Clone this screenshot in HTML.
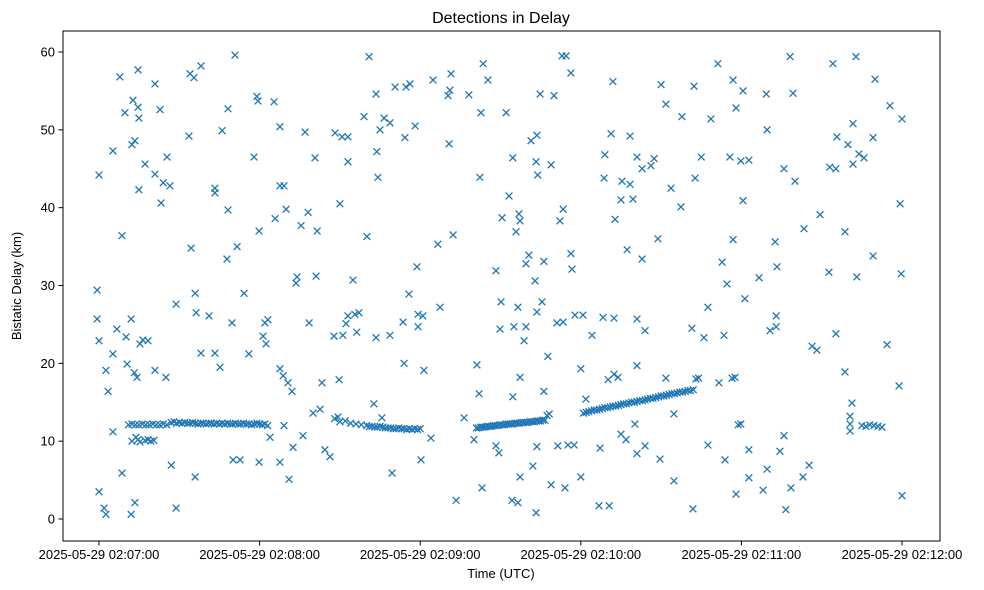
<!DOCTYPE html>
<html><head><meta charset="utf-8">
<style>
html,body{margin:0;padding:0;background:#fff;}
svg{display:block;font-family:"Liberation Sans","DejaVu Sans",sans-serif;}
</style></head>
<body>
<svg id="chart" width="984" height="590" viewBox="0 0 984 590">
<rect x="0" y="0" width="984" height="590" fill="#fff"/>
<text x="501" y="23" font-size="16" text-anchor="middle" fill="#000">Detections in Delay</text>
<g id="marks"></g>
<rect x="63" y="31" width="877" height="510" fill="none" stroke="#000" stroke-width="1"/>
<g id="xaxis"></g>
<g id="yaxis"></g>
<text x="501" y="578" font-size="13" text-anchor="middle">Time (UTC)</text>
<text x="21" y="286" font-size="13" text-anchor="middle" transform="rotate(-90 21 286)">Bistatic Delay (km)</text>
</svg>
<script>
// seconds after 2025-05-29 02:07:00 and bistatic delay (km)
const scatterT = [-0.7,-0.7,0,0,0,1.9,2.6,2.6,3.4,8.6,5.2,5.2,5.2,6.7,7.8,8.6,9.7,10.1,10.5,12,12.7,12.3,13.4,13.2,12,13.4,14.6,14.6,14.9,14.9,14.2,15.3,16.4,17.2,18.3,20.9,20.9,20.9,22.8,23.2,24,25.4,25,26.5,27,28.8,28.8,34,34.4,35.5,33.6,35.9,36.3,35.9,38.1,38.1,41.1,43.3,43.3,43.3,45.2,46,47.8,48.2,48.2,49.7,50.8,51.6,50.1,52.7,54.2,56,57.9,59.4,59,59.8,59.8,61.3,62,62.4,63.1,63.9,65.4,65.8,67.6,67.6,67.6,67.6,69.1,68.8,69.1,69.9,71,70.6,72.1,72.5,73.6,74,75.5,76.2,77,78.1,78.5,80,80.7,81.1,81.5,82.6,83.3,84.4,86.3,87.8,88.2,89.3,90,89.7,90.8,91.1,92.3,93,93,93,94.9,95.6,97.1,96.3,99,100.1,100.9,102.7,103.5,103.5,104.2,103.8,105,105.7,106.5,108.7,108.7,109.5,110.6,113.6,114,114.3,114.7,115.8,116.2,118.1,118.8,119.2,119.2,121,121.4,120.3,124,124.8,126.6,127.4,130.4,130.8,131.5,131.1,132.3,133.4,136.4,138.2,140.1,141.2,142,142.7,142.3,143.1,143.5,145.3,148.3,148.3,149.4,149.8,150.6,150.2,152.1,153.2,154.3,155,154.6,154.6,155.8,156.5,156.5,156.9,157.3,157.3,157.3,158.8,159.5,159.5,160.6,161.4,162.1,162.9,163.3,163.3,163.6,163.6,163.6,163.9,164.8,165.5,166.2,166.2,167.7,168.9,168.9,170,171.1,171.4,172.2,173.4,173.4,173,174.1,174.5,175.2,176.3,176.3,176.7,177.5,177.8,180,180,180.8,181.9,184.2,186.8,187.2,188.3,188.7,189,190.2,190.6,191.3,192,192.4,192.4,192.8,193.9,195,195,195.4,196.9,197.3,198.4,198.4,199.5,200.2,201,201,201,201,202.9,202.9,204,204,206.2,207.4,208.8,209.6,210,211.8,211.8,213.7,214.8,214.8,217.8,217.4,221.5,221.9,222.3,222.7,225,226,227.5,227.5,228.6,231.2,231.6,232.8,233.5,233.9,234.6,235.7,236.9,236.9,238,238,239.8,240.6,240.6,241.3,242.8,242.8,242.8,246.6,248.1,249.6,249.3,249.6,250.7,252.6,253,253,253.3,254.4,255.9,255.9,256.6,258.2,259.3,260,258.5,263,263.4,265.3,266.4,268.2,269.4,272.7,273,274.2,275.3,275.3,275.7,278.7,278.7,279.8,280.6,280.6,280.6,281.3,281.7,281.7,282.8,283.1,283.9,285.8,289.9,289.2,289.2,294.4,295.5,298.9,299.3,299.7,300,300];
const scatterD = [29.4,25.7,44.2,22.9,3.5,1.4,0.6,19.1,16.4,36.4,47.3,11.2,21.2,24.4,56.8,5.9,52.2,23.4,19.9,25.7,53.8,48.1,48.6,18.8,0.6,2.1,57.7,52.9,51.5,42.3,18.2,22.5,23,45.6,22.9,55.9,44.3,19.1,52.6,40.6,43.2,46.5,18.2,42.8,6.9,1.4,27.6,57.2,34.8,56.7,49.2,29,26.5,5.4,58.2,21.3,26.1,42.5,41.9,21.3,19.5,49.9,33.4,52.7,39.7,25.2,59.6,35,7.6,7.6,29,21.2,46.5,53.7,54.3,37,7.3,23.5,25.2,22.5,25.6,10.5,53.6,38.6,50.4,19.3,42.8,7.3,42.8,18.4,12,39.8,5.1,17.5,16.4,9.2,30.3,31.1,37.7,10.7,49.7,39.4,25.2,13.6,46.4,31.2,37,14.1,17.5,8.9,8,23.5,49.6,13.1,40.5,17.9,49.1,23.6,25.1,49.1,45.9,26.1,30.7,26.3,26.5,24,51.7,36.3,59.4,14.8,54.6,23.3,43.9,47.2,50,13,51.5,50.9,23.6,5.9,55.5,25.3,20,49,55.5,28.9,55.9,50.5,32.4,26.3,24.7,26.1,19.1,7.6,10.4,56.4,35.3,27.2,54.4,48.2,57.2,55.1,36.5,2.4,13,54.5,10.2,19.8,16.1,52.2,43.9,4,58.5,56.4,31.9,9.4,8.5,24.4,38.7,27.9,52.2,41.5,2.4,24.7,46.4,15.7,36.9,2.1,27.2,39.2,38.3,18.2,5.4,22.9,24.7,32.8,33.9,48.6,6.8,30.6,45.9,0.8,49.3,26.6,9.3,44.2,54.6,27.9,33.1,16.4,20.9,45.5,4.4,54.4,25.2,9.4,38.3,39.8,25.3,59.5,4,59.5,9.5,34.1,57.3,32.1,9.5,26.2,5.4,19.3,26.2,15.4,23.6,1.7,9.1,25.9,43.8,46.8,17.9,1.7,49.5,56.2,18.6,25.8,38.5,18.2,10.9,41,43.4,10.2,34.6,43,49.2,41.1,12.2,8.4,46.5,19.7,25.7,33.4,45,24.2,9.4,45.4,46.3,36,7.7,55.8,53.3,18.1,42.5,4.9,13.5,51.7,40.1,24.5,1.3,55.6,43.8,46.5,23.3,9.5,27.2,51.4,58.5,17.5,33,23.6,7.6,30.2,46.5,56.4,35.9,52.8,3.2,46,55,40.9,28.3,46.1,5.3,8.9,31,3.7,50,54.6,6.4,24.2,35.6,26.1,24.7,32.4,8.7,45,10.7,1.2,59.4,54.7,43.4,4,5.4,37.3,6.9,22.2,21.7,39.1,31.7,45.2,58.5,23.8,45,49.1,36.9,18.9,48.1,13.2,12.2,11.3,14.9,45.6,50.8,59.4,31.1,46.9,46.4,56.5,49,33.8,22.4,53.1,17.1,40.5,31.5,51.4,3];
// dense tracks
const trackT = [11,12.3,13.6,14.9,16.2,17.5,18.8,20.1,21.4,22.7,24,25.3,12.3,13.8,14.6,15.3,17.2,18.3,19.4,20.5,27,28,29,30,31,32,33,34,35,36,37,38,39,40,41,42,43,44,45,46,47,48,49,50,51,52,53,54,55,56,57,58,59,60,61,62,63,88,90,92,94,96,98,100,101,102,103,104,105,106,107,108,109,110,111,112,113,114,115,116,117,118,119,120,141,141.8,142.6,143.4,144.2,145,145.8,146.6,147.4,148.2,149,149.8,150.6,151.4,152.2,153,153.8,154.6,155.4,156.2,157,157.8,158.6,159.4,160.2,161,161.8,162.6,163.4,164.2,165,165.8,166.6,167.4,168.2,181,182,183,184,185,186,187,188,189,190,191,192,193,194,195,196,197,198,199,200,201,202,203,204,205,206,207,208,209,210,211,212,213,214,215,216,217,218,219,220,221,222,223,224,236.5,237.6,238.8,239.8,285,286.5,288,289.5,291,292.5,294,295.5];
const trackD = [12.1,12.2,12.1,12.1,12.2,12.1,12.1,12.2,12.1,12.1,12.2,12.1,10,10.5,10.2,9.9,10.1,10.2,10,10.1,12.4,12.5,12.3,12.4,12.3,12.4,12.3,12.3,12.4,12.3,12.2,12.3,12.3,12.2,12.3,12.3,12.2,12.3,12.2,12.3,12.2,12.3,12.2,12.2,12.3,12.2,12.2,12.3,12.2,12.2,12.1,12.2,12.3,12.2,12.1,12.2,12,12.9,12.5,12.6,12.3,12.2,12.1,12,11.9,11.9,11.8,11.8,11.9,11.8,11.7,11.7,11.7,11.6,11.6,11.7,11.6,11.6,11.5,11.6,11.5,11.6,11.5,11.6,11.7,11.7,11.8,11.8,11.8,11.9,11.9,11.9,12,12,12,12.1,12.1,12.1,12.2,12.2,12.2,12.2,12.3,12.3,12.3,12.4,12.4,12.4,12.4,12.5,12.5,12.5,12.6,12.6,12.6,12.7,12.7,13.3,13.5,13.6,13.7,13.8,13.9,14,14,14.1,14.2,14.3,14.3,14.4,14.5,14.5,14.6,14.7,14.8,14.8,14.9,15,15,15.1,15.2,15.2,15.3,15.4,15.5,15.5,15.6,15.7,15.8,15.8,15.9,16,16.1,16.1,16.2,16.3,16.3,16.4,16.5,16.5,16.6,18,18.1,18.1,18.2,12.1,12.2,12,11.9,12.1,12,11.9,11.8];
const xTickVals = [0,60,120,180,240,300];
const xTickLabels = ["2025-05-29 02:07:00","2025-05-29 02:08:00","2025-05-29 02:09:00","2025-05-29 02:10:00","2025-05-29 02:11:00","2025-05-29 02:12:00"];
const yTickVals = [0,10,20,30,40,50,60];

const NS = "http://www.w3.org/2000/svg";
function xS(t){ return 99 + t * (803/300); }
function yS(d){ return 519 - d * (467/60); }
const marks = document.getElementById('marks');
function addX(t, d){
  const cx = xS(t), cy = yS(d), r = 3.4;
  const p = document.createElementNS(NS, 'path');
  p.setAttribute('d', `M${cx-r},${cy-r}L${cx+r},${cy+r}M${cx-r},${cy+r}L${cx+r},${cy-r}`);
  p.setAttribute('stroke', '#1f77b4');
  p.setAttribute('stroke-width', '1.3');
  p.setAttribute('fill', 'none');
  
  
  marks.appendChild(p);
}
for (let i = 0; i < scatterT.length; i++) addX(scatterT[i], scatterD[i]);
for (let i = 0; i < trackT.length; i++) addX(trackT[i], trackD[i]);

const xa = document.getElementById('xaxis');
xTickVals.forEach((v, i) => {
  const x = xS(v);
  const l = document.createElementNS(NS, 'line');
  l.setAttribute('x1', x); l.setAttribute('x2', x);
  l.setAttribute('y1', 541); l.setAttribute('y2', 545.5);
  l.setAttribute('stroke', '#000');
  
  
  xa.appendChild(l);
  const tx = document.createElementNS(NS, 'text');
  tx.setAttribute('x', x); tx.setAttribute('y', 559);
  tx.setAttribute('font-size', '13'); tx.setAttribute('text-anchor', 'middle');
  tx.textContent = xTickLabels[i];
  
  
  xa.appendChild(tx);
});
const ya = document.getElementById('yaxis');
yTickVals.forEach(v => {
  const y = yS(v);
  const l = document.createElementNS(NS, 'line');
  l.setAttribute('x1', 58.5); l.setAttribute('x2', 63);
  l.setAttribute('y1', y); l.setAttribute('y2', y);
  l.setAttribute('stroke', '#000');
  
  
  ya.appendChild(l);
  const tx = document.createElementNS(NS, 'text');
  tx.setAttribute('x', 55); tx.setAttribute('y', y + 4.5);
  tx.setAttribute('font-size', '13'); tx.setAttribute('text-anchor', 'end');
  tx.textContent = String(v);
  
  
  ya.appendChild(tx);
});
</script>
</body></html>
